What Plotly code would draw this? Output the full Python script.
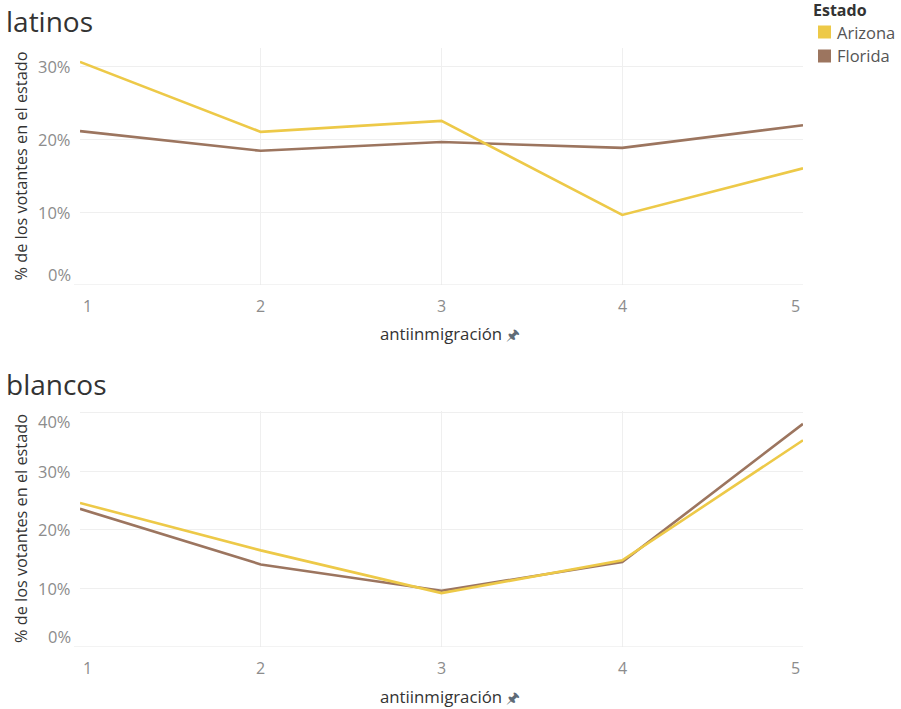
import plotly.graph_objects as go

niveles = [1, 2, 3, 4, 5]
latinos_arizona = [30.6, 21.0, 22.5, 9.6, 16.0]
latinos_florida = [21.1, 18.4, 19.6, 18.8, 21.9]
blancos_arizona = [24.6, 16.5, 9.2, 14.8, 35.3]
blancos_florida = [23.6, 14.1, 9.6, 14.5, 38.1]
ticks_latinos = [0, 10, 20, 30]
ticks_blancos = [0, 10, 20, 30, 40]
paneles = ["latinos", "blancos"]
estados = ["Arizona", "Florida"]
colores = {"Arizona": "#EDC948", "Florida": "#9C755F"}

W, H = 901, 709
FONT = "Open Sans"
GRID = "#efefef"
TICK = "#8c8c8c"
DARK = "#333333"

fig = go.Figure()

def py(p):
    return 1 - p / H

panes = {
    "latinos": dict(top=48, bottom=285, ymax=32.5, xa="x", ya="y", ticks=ticks_latinos,
                    data={"Arizona": latinos_arizona, "Florida": latinos_florida}),
    "blancos": dict(top=411, bottom=647, ymax=40.3, xa="x2", ya="y2", ticks=ticks_blancos,
                    data={"Arizona": blancos_arizona, "Florida": blancos_florida}),
}

for name in paneles:
    p = panes[name]
    for est in ["Florida", "Arizona"]:
        fig.add_trace(go.Scatter(x=niveles, y=p["data"][est], mode="lines",
                                 line=dict(color=colores[est], width=2.6),
                                 xaxis=p["xa"], yaxis=p["ya"], showlegend=False,
                                 name=est, hoverinfo="x+y+name"))

x0, x1 = 80 / W, 803 / W
annotations = []
shapes = []
for i, name in enumerate(paneles):
    p = panes[name]
    sfx = "" if i == 0 else "2"
    fig.update_layout(**{
        "xaxis" + sfx: dict(domain=[x0, x1], range=[1, 5], anchor="y" + sfx,
                            tickvals=niveles, showticklabels=False, showgrid=True,
                            gridcolor=GRID, gridwidth=1, zeroline=False,
                            showline=False, fixedrange=True),
        "yaxis" + sfx: dict(domain=[py(p["bottom"]), py(p["top"])], range=[0, p["ymax"]],
                            anchor="x" + sfx, tickvals=p["ticks"], showticklabels=False,
                            showgrid=True, gridcolor=GRID, gridwidth=1, zeroline=False,
                            showline=False, fixedrange=True),
    })
    xa, ya = p["xa"], p["ya"]
    shapes.append(dict(type="line", xref="paper", yref=ya, x0=74 / W, x1=x1, y0=0, y1=0,
                       line=dict(color="#e6e6e6", width=1)))
    for v in niveles:
        anchor = "left" if v == niveles[0] else ("right" if v == niveles[-1] else "center")
        shift = 1 if v == niveles[0] else (-1 if v == niveles[-1] else 0)
        annotations.append(dict(x=v, y=0, xref=xa, yref=ya, text=str(v), showarrow=False,
                                xanchor=anchor, yanchor="top", yshift=-8, xshift=shift,
                                font=dict(family=FONT, size=16, color=TICK)))
    for v in p["ticks"]:
        ysh = 0
        if v == 0:
            ysh = 11
        elif v == p["ticks"][-1] and name == "blancos":
            ysh = -9
        annotations.append(dict(x=73 / W, y=v, xref="paper", yref=ya, text=f"{v}%",
                                showarrow=False, xanchor="right", yanchor="middle",
                                yshift=ysh, font=dict(family=FONT, size=16.5, color=TICK)))
    annotations.append(dict(x=4 / W, y=py(p["top"] - 27), xref="paper", yref="paper",
                            text=name, showarrow=False, xanchor="left", yanchor="middle",
                            font=dict(family=FONT, size=28, color=DARK)))
    annotations.append(dict(x=21 / W, y=py((p["top"] + p["bottom"]) / 2), xref="paper",
                            yref="paper", text="% de los votantes en el estado",
                            showarrow=False, textangle=-90, xanchor="center",
                            yanchor="middle", font=dict(family=FONT, size=16.3, color=DARK)))
    annotations.append(dict(x=450 / W, y=py(p["bottom"] + 49), xref="paper", yref="paper",
                            text="antiinmigración <span style='color:#5f6b77;font-size:15px'>🖈</span>",
                            showarrow=False, xanchor="center", yanchor="middle",
                            font=dict(family=FONT, size=16.8, color=DARK)))

# legend (Tableau-style, square swatches)
annotations.append(dict(x=811 / W, y=py(10), xref="paper", yref="paper", text="<b>Estado</b>",
                        showarrow=False, xanchor="left", yanchor="middle",
                        font=dict(family=FONT, size=16, color=DARK)))
for k, est in enumerate(estados):
    cy = 32 + 24 * k
    shapes.append(dict(type="rect", xref="paper", yref="paper", x0=818 / W, x1=831 / W,
                       y0=py(cy + 6.5), y1=py(cy - 6.5), fillcolor=colores[est],
                       line=dict(width=0)))
    annotations.append(dict(x=835 / W, y=py(cy), xref="paper", yref="paper", text=est,
                            showarrow=False, xanchor="left", yanchor="middle",
                            font=dict(family=FONT, size=16.5, color="#555555")))

fig.update_layout(
    width=W, height=H, margin=dict(l=0, r=0, t=0, b=0),
    paper_bgcolor="white", plot_bgcolor="white",
    annotations=annotations, shapes=shapes,
    showlegend=False,
    font=dict(family=FONT),
)

fig.write_html("out.html", config={"displayModeBar": False},
               post_script="document.body.style.margin='0';")
